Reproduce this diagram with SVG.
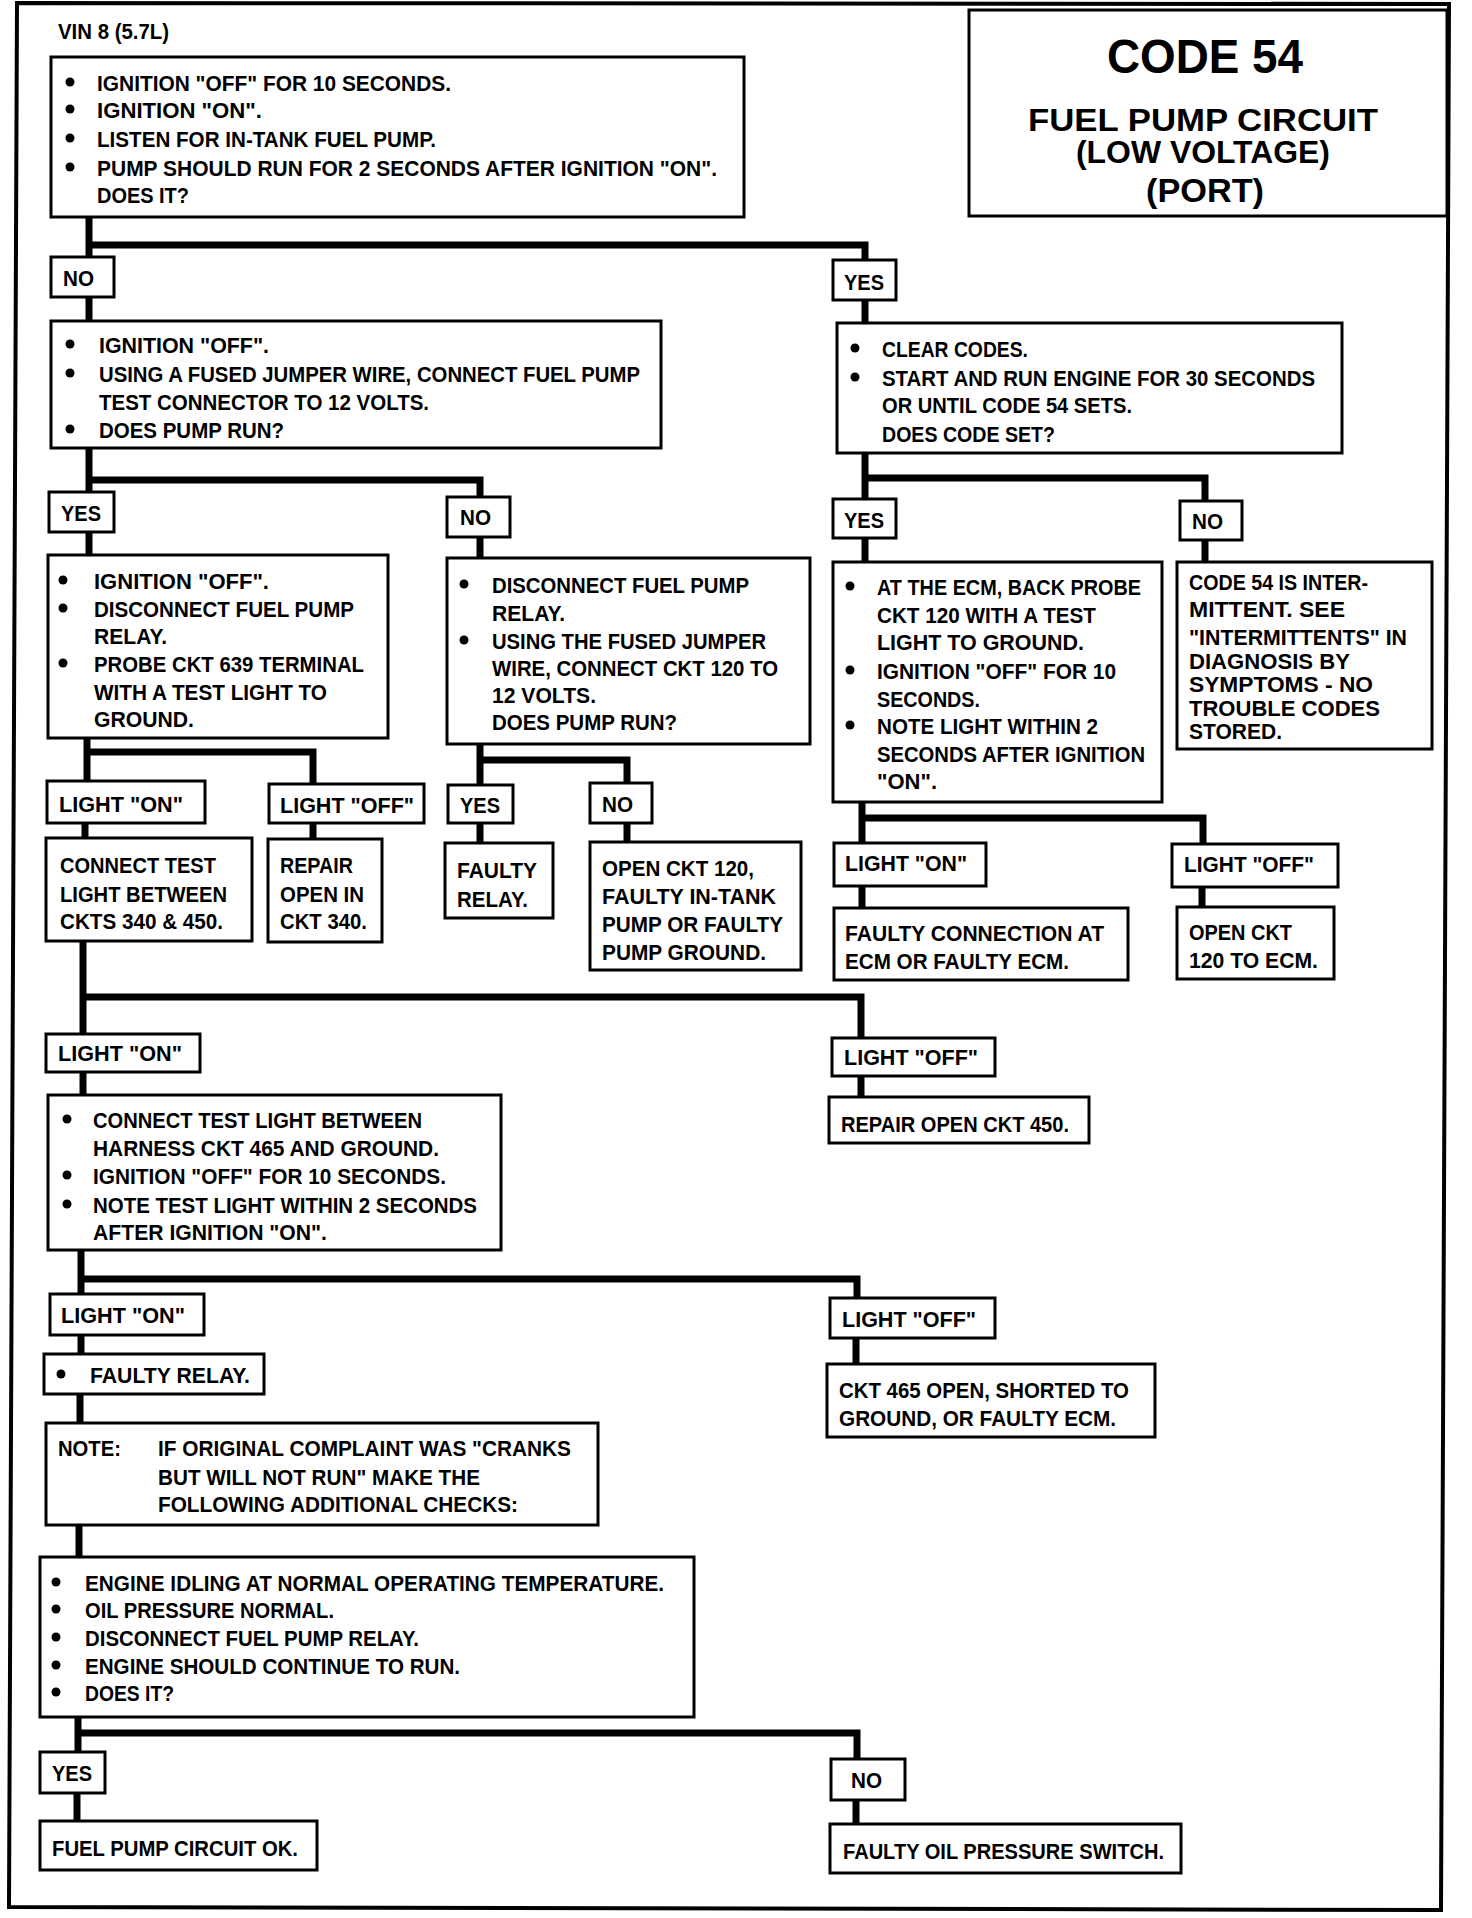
<svg xmlns="http://www.w3.org/2000/svg" width="1472" height="1918" viewBox="0 0 1472 1918">
<style>
.b{fill:#fff;stroke:#000;stroke-width:3}
.c{fill:none;stroke:#000;stroke-width:7;stroke-linejoin:miter}
.f{fill:none;stroke:#000;stroke-width:4}
.t{font-family:"Liberation Sans",Arial,sans-serif;font-weight:bold;font-size:22px;fill:#000}
.h{font-family:"Liberation Sans",Arial,sans-serif;font-weight:bold;fill:#000;text-anchor:start}
.d{fill:#000}
</style>
<rect width="1472" height="1918" fill="#fff"/>
<path class="f" d="M17,3 L1449,4 L1441,1910 L9,1907 Z"/>
<text class="t" x="58" y="39" font-size="24" textLength="111" lengthAdjust="spacingAndGlyphs">VIN 8 (5.7L)</text>

<g id="connectors">
<path class="c" d="M89,217 V258"/>
<path class="c" d="M89,245 H865 V261"/>
<path class="c" d="M89,297 V322"/>
<path class="c" d="M865,300 V324"/>
<path class="c" d="M89,448 V493"/>
<path class="c" d="M89,480 H480 V498"/>
<path class="c" d="M89,532 V556"/>
<path class="c" d="M480,537 V559"/>
<path class="c" d="M865,453 V500"/>
<path class="c" d="M865,478 H1205 V502"/>
<path class="c" d="M865,538 V563"/>
<path class="c" d="M1205,540 V562"/>
<path class="c" d="M87,738 V782"/>
<path class="c" d="M87,752 H313 V785"/>
<path class="c" d="M85,823 V839"/>
<path class="c" d="M313,823 V840"/>
<path class="c" d="M480,744 V786"/>
<path class="c" d="M480,760 H627 V784"/>
<path class="c" d="M480,823 V844"/>
<path class="c" d="M627,822 V843"/>
<path class="c" d="M862,802 V844"/>
<path class="c" d="M862,818 H1203 V845"/>
<path class="c" d="M862,886 V909"/>
<path class="c" d="M1202,887 V908"/>
<path class="c" d="M83,941 V1035"/>
<path class="c" d="M83,997 H861 V1039"/>
<path class="c" d="M83,1072 V1096"/>
<path class="c" d="M861,1076 V1098"/>
<path class="c" d="M81,1250 V1295"/>
<path class="c" d="M81,1279 H857 V1299"/>
<path class="c" d="M81,1334 V1355"/>
<path class="c" d="M856,1337 V1365"/>
<path class="c" d="M80,1393 V1424"/>
<path class="c" d="M79,1525 V1558"/>
<path class="c" d="M78,1717 V1753"/>
<path class="c" d="M78,1733 H857 V1760"/>
<path class="c" d="M77,1793 V1822"/>
<path class="c" d="M856,1800 V1825"/>
</g>

<g id="title">
<rect class="b" x="969" y="10" width="478" height="206"/>
<text class="h" x="1107" y="73" font-size="48" textLength="196" lengthAdjust="spacingAndGlyphs">CODE 54</text>
<text class="h" x="1028" y="131" font-size="31" textLength="350" lengthAdjust="spacingAndGlyphs">FUEL PUMP CIRCUIT</text>
<text class="h" x="1076" y="163" font-size="31" textLength="254" lengthAdjust="spacingAndGlyphs">(LOW VOLTAGE)</text>
<text class="h" x="1146" y="202" font-size="33" textLength="118" lengthAdjust="spacingAndGlyphs">(PORT)</text>
</g>

<g id="n1">
<rect class="b" x="51" y="57" width="693" height="160"/>
<circle class="d" cx="70" cy="82" r="4.5"/><circle class="d" cx="70" cy="109" r="4.5"/><circle class="d" cx="70" cy="138" r="4.5"/><circle class="d" cx="70" cy="167" r="4.5"/>
<text class="t" x="97" y="91" textLength="354" lengthAdjust="spacingAndGlyphs">IGNITION "OFF" FOR 10 SECONDS.</text>
<text class="t" x="97" y="118" textLength="165" lengthAdjust="spacingAndGlyphs">IGNITION "ON".</text>
<text class="t" x="97" y="147" textLength="339" lengthAdjust="spacingAndGlyphs">LISTEN FOR IN-TANK FUEL PUMP.</text>
<text class="t" x="97" y="176" textLength="620" lengthAdjust="spacingAndGlyphs">PUMP SHOULD RUN FOR 2 SECONDS AFTER  IGNITION "ON".</text>
<text class="t" x="97" y="203" textLength="92" lengthAdjust="spacingAndGlyphs">DOES IT?</text>
</g>

<g id="no1"><rect class="b" x="51" y="257" width="63" height="40"/><text class="t" x="63" y="286" textLength="31" lengthAdjust="spacingAndGlyphs">NO</text></g>
<g id="yes1"><rect class="b" x="833" y="260" width="63" height="40"/><text class="t" x="844" y="290" textLength="40" lengthAdjust="spacingAndGlyphs">YES</text></g>

<g id="n2">
<rect class="b" x="51" y="321" width="610" height="127"/>
<circle class="d" cx="70" cy="344" r="4.5"/><circle class="d" cx="70" cy="373" r="4.5"/><circle class="d" cx="70" cy="429" r="4.5"/>
<text class="t" x="99" y="353" textLength="170" lengthAdjust="spacingAndGlyphs">IGNITION "OFF".</text>
<text class="t" x="99" y="382" textLength="541" lengthAdjust="spacingAndGlyphs">USING A FUSED JUMPER WIRE, CONNECT FUEL PUMP</text>
<text class="t" x="99" y="410" textLength="330" lengthAdjust="spacingAndGlyphs">TEST CONNECTOR TO 12 VOLTS.</text>
<text class="t" x="99" y="438" textLength="185" lengthAdjust="spacingAndGlyphs">DOES PUMP RUN?</text>
</g>

<g id="n5">
<rect class="b" x="837" y="323" width="505" height="130"/>
<circle class="d" cx="855" cy="348" r="4.5"/><circle class="d" cx="855" cy="377" r="4.5"/>
<text class="t" x="882" y="357" textLength="146" lengthAdjust="spacingAndGlyphs">CLEAR CODES.</text>
<text class="t" x="882" y="386" textLength="433" lengthAdjust="spacingAndGlyphs">START AND RUN ENGINE FOR 30 SECONDS</text>
<text class="t" x="882" y="413" textLength="250" lengthAdjust="spacingAndGlyphs">OR UNTIL CODE 54 SETS.</text>
<text class="t" x="882" y="442" textLength="173" lengthAdjust="spacingAndGlyphs">DOES CODE SET?</text>
</g>

<g id="yes2"><rect class="b" x="49" y="492" width="65" height="40"/><text class="t" x="61" y="521" textLength="40" lengthAdjust="spacingAndGlyphs">YES</text></g>
<g id="no2"><rect class="b" x="447" y="497" width="63" height="40"/><text class="t" x="460" y="525" textLength="31" lengthAdjust="spacingAndGlyphs">NO</text></g>
<g id="yes3"><rect class="b" x="833" y="499" width="63" height="39"/><text class="t" x="844" y="528" textLength="40" lengthAdjust="spacingAndGlyphs">YES</text></g>
<g id="no3"><rect class="b" x="1180" y="501" width="62" height="39"/><text class="t" x="1192" y="529" textLength="31" lengthAdjust="spacingAndGlyphs">NO</text></g>

<g id="n3">
<rect class="b" x="48" y="555" width="340" height="183"/>
<circle class="d" cx="63" cy="580" r="4.5"/><circle class="d" cx="63" cy="608" r="4.5"/><circle class="d" cx="63" cy="663" r="4.5"/>
<text class="t" x="94" y="589" textLength="175" lengthAdjust="spacingAndGlyphs">IGNITION "OFF".</text>
<text class="t" x="94" y="617" textLength="260" lengthAdjust="spacingAndGlyphs">DISCONNECT FUEL PUMP</text>
<text class="t" x="94" y="644" textLength="73" lengthAdjust="spacingAndGlyphs">RELAY.</text>
<text class="t" x="94" y="672" textLength="270" lengthAdjust="spacingAndGlyphs">PROBE CKT 639 TERMINAL</text>
<text class="t" x="94" y="700" textLength="233" lengthAdjust="spacingAndGlyphs">WITH A TEST LIGHT TO</text>
<text class="t" x="94" y="727" textLength="100" lengthAdjust="spacingAndGlyphs">GROUND.</text>
</g>

<g id="n4">
<rect class="b" x="447" y="558" width="363" height="186"/>
<circle class="d" cx="464" cy="584" r="4.5"/><circle class="d" cx="464" cy="640" r="4.5"/>
<text class="t" x="492" y="593" textLength="257" lengthAdjust="spacingAndGlyphs">DISCONNECT FUEL PUMP</text>
<text class="t" x="492" y="621" textLength="73" lengthAdjust="spacingAndGlyphs">RELAY.</text>
<text class="t" x="492" y="649" textLength="274" lengthAdjust="spacingAndGlyphs">USING THE FUSED JUMPER</text>
<text class="t" x="492" y="676" textLength="286" lengthAdjust="spacingAndGlyphs">WIRE, CONNECT CKT 120 TO</text>
<text class="t" x="492" y="703" textLength="104" lengthAdjust="spacingAndGlyphs">12 VOLTS.</text>
<text class="t" x="492" y="730" textLength="185" lengthAdjust="spacingAndGlyphs">DOES PUMP RUN?</text>
</g>

<g id="n6">
<rect class="b" x="833" y="562" width="329" height="240"/>
<circle class="d" cx="850" cy="586" r="4.5"/><circle class="d" cx="850" cy="670" r="4.5"/><circle class="d" cx="850" cy="725" r="4.5"/>
<text class="t" x="877" y="595" textLength="264" lengthAdjust="spacingAndGlyphs">AT THE ECM, BACK PROBE</text>
<text class="t" x="877" y="623" textLength="219" lengthAdjust="spacingAndGlyphs">CKT 120 WITH A TEST</text>
<text class="t" x="877" y="650" textLength="207" lengthAdjust="spacingAndGlyphs">LIGHT TO GROUND.</text>
<text class="t" x="877" y="679" textLength="239" lengthAdjust="spacingAndGlyphs">IGNITION "OFF" FOR 10</text>
<text class="t" x="877" y="707" textLength="103" lengthAdjust="spacingAndGlyphs">SECONDS.</text>
<text class="t" x="877" y="734" textLength="221" lengthAdjust="spacingAndGlyphs">NOTE LIGHT WITHIN 2</text>
<text class="t" x="877" y="762" textLength="268" lengthAdjust="spacingAndGlyphs">SECONDS AFTER IGNITION</text>
<text class="t" x="877" y="789" textLength="60" lengthAdjust="spacingAndGlyphs">"ON".</text>
</g>

<g id="n7">
<rect class="b" x="1177" y="562" width="255" height="187"/>
<text class="t" x="1189" y="590" textLength="179" lengthAdjust="spacingAndGlyphs">CODE 54 IS INTER-</text>
<text class="t" x="1189" y="617" textLength="156" lengthAdjust="spacingAndGlyphs">MITTENT.  SEE</text>
<text class="t" x="1189" y="645" textLength="218" lengthAdjust="spacingAndGlyphs">"INTERMITTENTS" IN</text>
<text class="t" x="1189" y="669" textLength="161" lengthAdjust="spacingAndGlyphs">DIAGNOSIS BY</text>
<text class="t" x="1189" y="692" textLength="184" lengthAdjust="spacingAndGlyphs">SYMPTOMS - NO</text>
<text class="t" x="1189" y="716" textLength="191" lengthAdjust="spacingAndGlyphs">TROUBLE CODES</text>
<text class="t" x="1189" y="739" textLength="93" lengthAdjust="spacingAndGlyphs">STORED.</text>
</g>

<g id="lon1"><rect class="b" x="47" y="781" width="158" height="42"/><text class="t" x="59" y="812" textLength="124" lengthAdjust="spacingAndGlyphs">LIGHT "ON"</text></g>
<g id="loff1"><rect class="b" x="269" y="784" width="155" height="39"/><text class="t" x="280" y="813" textLength="134" lengthAdjust="spacingAndGlyphs">LIGHT "OFF"</text></g>
<g id="yes4"><rect class="b" x="448" y="785" width="65" height="38"/><text class="t" x="460" y="813" textLength="40" lengthAdjust="spacingAndGlyphs">YES</text></g>
<g id="no4"><rect class="b" x="590" y="783" width="62" height="40"/><text class="t" x="602" y="812" textLength="31" lengthAdjust="spacingAndGlyphs">NO</text></g>
<g id="lon2"><rect class="b" x="834" y="843" width="152" height="43"/><text class="t" x="845" y="871" textLength="122" lengthAdjust="spacingAndGlyphs">LIGHT "ON"</text></g>
<g id="loff2"><rect class="b" x="1172" y="844" width="166" height="43"/><text class="t" x="1184" y="872" textLength="130" lengthAdjust="spacingAndGlyphs">LIGHT "OFF"</text></g>

<g id="n8">
<rect class="b" x="46" y="838" width="206" height="103"/>
<text class="t" x="60" y="873" textLength="156" lengthAdjust="spacingAndGlyphs">CONNECT TEST</text>
<text class="t" x="60" y="902" textLength="167" lengthAdjust="spacingAndGlyphs">LIGHT BETWEEN</text>
<text class="t" x="60" y="929" textLength="163" lengthAdjust="spacingAndGlyphs">CKTS 340 &amp; 450.</text>
</g>
<g id="n9">
<rect class="b" x="268" y="839" width="114" height="103"/>
<text class="t" x="280" y="873" textLength="73" lengthAdjust="spacingAndGlyphs">REPAIR</text>
<text class="t" x="280" y="902" textLength="84" lengthAdjust="spacingAndGlyphs">OPEN IN</text>
<text class="t" x="280" y="929" textLength="87" lengthAdjust="spacingAndGlyphs">CKT 340.</text>
</g>
<g id="n10">
<rect class="b" x="445" y="843" width="108" height="75"/>
<text class="t" x="457" y="878" textLength="80" lengthAdjust="spacingAndGlyphs">FAULTY</text>
<text class="t" x="457" y="907" textLength="71" lengthAdjust="spacingAndGlyphs">RELAY.</text>
</g>
<g id="n11">
<rect class="b" x="590" y="842" width="211" height="128"/>
<text class="t" x="602" y="876" textLength="152" lengthAdjust="spacingAndGlyphs">OPEN CKT 120,</text>
<text class="t" x="602" y="904" textLength="174" lengthAdjust="spacingAndGlyphs">FAULTY IN-TANK</text>
<text class="t" x="602" y="932" textLength="181" lengthAdjust="spacingAndGlyphs">PUMP OR FAULTY</text>
<text class="t" x="602" y="960" textLength="164" lengthAdjust="spacingAndGlyphs">PUMP GROUND.</text>
</g>
<g id="n12">
<rect class="b" x="834" y="908" width="294" height="72"/>
<text class="t" x="845" y="941" textLength="259" lengthAdjust="spacingAndGlyphs">FAULTY CONNECTION AT</text>
<text class="t" x="845" y="969" textLength="224" lengthAdjust="spacingAndGlyphs">ECM OR FAULTY ECM.</text>
</g>
<g id="n13">
<rect class="b" x="1177" y="907" width="157" height="72"/>
<text class="t" x="1189" y="940" textLength="103" lengthAdjust="spacingAndGlyphs">OPEN CKT</text>
<text class="t" x="1189" y="968" textLength="129" lengthAdjust="spacingAndGlyphs">120 TO ECM.</text>
</g>

<g id="lon3"><rect class="b" x="46" y="1034" width="154" height="38"/><text class="t" x="58" y="1061" textLength="124" lengthAdjust="spacingAndGlyphs">LIGHT "ON"</text></g>
<g id="loff3"><rect class="b" x="832" y="1038" width="163" height="38"/><text class="t" x="844" y="1065" textLength="134" lengthAdjust="spacingAndGlyphs">LIGHT "OFF"</text></g>
<g id="n14"><rect class="b" x="829" y="1097" width="260" height="46"/><text class="t" x="841" y="1132" textLength="228" lengthAdjust="spacingAndGlyphs">REPAIR OPEN CKT 450.</text></g>

<g id="n15">
<rect class="b" x="48" y="1095" width="453" height="155"/>
<circle class="d" cx="67" cy="1119" r="4.5"/><circle class="d" cx="67" cy="1175" r="4.5"/><circle class="d" cx="67" cy="1204" r="4.5"/>
<text class="t" x="93" y="1128" textLength="329" lengthAdjust="spacingAndGlyphs">CONNECT TEST LIGHT BETWEEN</text>
<text class="t" x="93" y="1156" textLength="346" lengthAdjust="spacingAndGlyphs">HARNESS CKT 465 AND GROUND.</text>
<text class="t" x="93" y="1184" textLength="353" lengthAdjust="spacingAndGlyphs">IGNITION "OFF" FOR 10 SECONDS.</text>
<text class="t" x="93" y="1213" textLength="384" lengthAdjust="spacingAndGlyphs">NOTE TEST LIGHT WITHIN 2 SECONDS</text>
<text class="t" x="93" y="1240" textLength="234" lengthAdjust="spacingAndGlyphs">AFTER IGNITION "ON".</text>
</g>

<g id="lon4"><rect class="b" x="50" y="1294" width="154" height="41"/><text class="t" x="61" y="1323" textLength="124" lengthAdjust="spacingAndGlyphs">LIGHT "ON"</text></g>
<g id="loff4"><rect class="b" x="830" y="1298" width="165" height="40"/><text class="t" x="842" y="1327" textLength="134" lengthAdjust="spacingAndGlyphs">LIGHT "OFF"</text></g>

<g id="n16"><rect class="b" x="44" y="1354" width="220" height="40"/><circle class="d" cx="61" cy="1374" r="4.5"/><text class="t" x="90" y="1383" textLength="160" lengthAdjust="spacingAndGlyphs">FAULTY RELAY.</text></g>
<g id="n17">
<rect class="b" x="827" y="1364" width="328" height="73"/>
<text class="t" x="839" y="1398" textLength="290" lengthAdjust="spacingAndGlyphs">CKT 465 OPEN, SHORTED TO</text>
<text class="t" x="839" y="1426" textLength="277" lengthAdjust="spacingAndGlyphs">GROUND, OR FAULTY ECM.</text>
</g>

<g id="n18">
<rect class="b" x="46" y="1423" width="552" height="102"/>
<text class="t" x="58" y="1456" textLength="63" lengthAdjust="spacingAndGlyphs">NOTE:</text>
<text class="t" x="158" y="1456" textLength="413" lengthAdjust="spacingAndGlyphs">IF ORIGINAL COMPLAINT WAS "CRANKS</text>
<text class="t" x="158" y="1485" textLength="322" lengthAdjust="spacingAndGlyphs">BUT WILL NOT RUN" MAKE THE</text>
<text class="t" x="158" y="1512" textLength="360" lengthAdjust="spacingAndGlyphs">FOLLOWING ADDITIONAL CHECKS:</text>
</g>

<g id="n19">
<rect class="b" x="40" y="1557" width="654" height="160"/>
<circle class="d" cx="56" cy="1582" r="4.5"/><circle class="d" cx="56" cy="1609" r="4.5"/><circle class="d" cx="56" cy="1637" r="4.5"/><circle class="d" cx="56" cy="1665" r="4.5"/><circle class="d" cx="56" cy="1692" r="4.5"/>
<text class="t" x="85" y="1591" textLength="579" lengthAdjust="spacingAndGlyphs">ENGINE IDLING AT NORMAL OPERATING TEMPERATURE.</text>
<text class="t" x="85" y="1618" textLength="249" lengthAdjust="spacingAndGlyphs">OIL PRESSURE NORMAL.</text>
<text class="t" x="85" y="1646" textLength="334" lengthAdjust="spacingAndGlyphs">DISCONNECT FUEL PUMP RELAY.</text>
<text class="t" x="85" y="1674" textLength="375" lengthAdjust="spacingAndGlyphs">ENGINE SHOULD CONTINUE TO RUN.</text>
<text class="t" x="85" y="1701" textLength="89" lengthAdjust="spacingAndGlyphs">DOES IT?</text>
</g>

<g id="yes5"><rect class="b" x="40" y="1752" width="65" height="41"/><text class="t" x="52" y="1781" textLength="40" lengthAdjust="spacingAndGlyphs">YES</text></g>
<g id="no5"><rect class="b" x="831" y="1759" width="74" height="41"/><text class="t" x="851" y="1788" textLength="31" lengthAdjust="spacingAndGlyphs">NO</text></g>
<g id="n20"><rect class="b" x="40" y="1821" width="277" height="49"/><text class="t" x="52" y="1856" textLength="246" lengthAdjust="spacingAndGlyphs">FUEL PUMP CIRCUIT OK.</text></g>
<g id="n21"><rect class="b" x="830" y="1824" width="351" height="49"/><text class="t" x="843" y="1859" textLength="321" lengthAdjust="spacingAndGlyphs">FAULTY OIL PRESSURE SWITCH.</text></g>
</svg>
